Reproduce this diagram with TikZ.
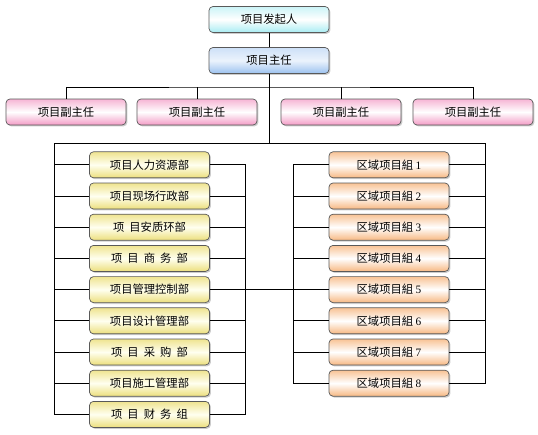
\documentclass[tikz,border=0pt]{standalone}
\usepackage{fontspec}
\setmainfont{Liberation Serif}
\newfontfamily\cjk{Noto Sans CJK SC}
\usetikzlibrary{shadows}

\newcommand\gp{\hspace{0.45em}}

\definecolor{sponsorc}{HTML}{A8ECF2}
\definecolor{chiefc}{HTML}{9CC2F0}
\definecolor{vicec}{HTML}{F39CC6}
\definecolor{deptc}{HTML}{ECDF7C}
\definecolor{groupc}{HTML}{F7B882}

\tikzset{
  box/.style={draw=black!65, line width=0.7pt, rounded corners=4pt,
    minimum width=120pt, minimum height=26pt, inner sep=0pt,
    font=\cjk\fontsize{11.3}{13}\selectfont,
    drop shadow={shadow xshift=1.4pt, shadow yshift=-1.4pt, fill=black!40}},
  sponsor/.style={top color=sponsorc!60, bottom color=sponsorc, middle color=white},
  chief/.style={top color=chiefc!50, bottom color=chiefc, middle color=white!80!chiefc},
  vice/.style={top color=vicec!75, bottom color=vicec, middle color=white},
  dept/.style={top color=deptc!85, bottom color=deptc, middle color=yellow!6},
  group/.style={top color=groupc!85, bottom color=groupc, middle color=white},
  link/.style={draw=black, line width=0.8pt}
}

\begin{document}
\begin{tikzpicture}[x=1pt, y=-1pt]
\useasboundingbox (0,0) rectangle (538,434);

% top of the chart
\node[box,sponsor] (sponsor) at (269,19.5) {项目发起人};
\node[box,chief] (chief) at (269,60.5) {项目主任};

% vice directors
\node[box,vice] (vice1) at (66,112) {项目副主任};
\node[box,vice] (vice2) at (197,112) {项目副主任};
\node[box,vice] (vice3) at (341,112) {项目副主任};
\node[box,vice] (vice4) at (473,112) {项目副主任};

% departments
\foreach \txt [count=\i] in {项目人力资源部, 项目现场行政部, 项\gp 目安质环部,
    项\gp 目\gp 商\gp 务\gp 部, 项目管理控制部, 项目设计管理部,
    项\gp 目\gp 采\gp 购\gp 部, 项目施工管理部, 项\gp 目\gp 财\gp 务\gp 组}
  \node[box,dept] (dep\i) at (149.5,133.6+31.2*\i) {\txt};

% regional groups
\foreach \i in {1,...,8}
  \node[box,group] (grp\i) at (389,133.6+31.2*\i) {区域项目組 {\rmfamily\fontsize{11.3}{13}\selectfont\i}};

\coordinate (vbus) at (269,87);
\coordinate (hbar) at (269,143);
\coordinate (lbus) at (54,143);
\coordinate (rbus) at (485,143);
\coordinate (lin) at (245,0);
\coordinate (rin) at (293,0);

% connectors
\draw[link] (sponsor) -- (chief);
\draw[link] (chief.south) -- (hbar);
\draw[link] (vice1.north) |- (vbus) -| (vice4.north);
\draw[link] (vice2.north) -- (vice2.north |- vbus);
\draw[link] (vice3.north) -- (vice3.north |- vbus);

\draw[link] (dep9.west) -| (lbus) -- (rbus) |- (grp8.east);
\foreach \i in {1,...,8}
  \draw[link] (dep\i.west) -- (dep\i.west -| lbus);
\foreach \i in {1,...,7}
  \draw[link] (grp\i.east) -- (grp\i.east -| rbus);

\draw[link] (dep1.east) -| (dep9.east -| lin) -- (dep9.east);
\foreach \i in {2,...,8}
  \draw[link] (dep\i.east) -- (dep\i.east -| lin);
\draw[link] (grp1.west) -| (grp8.west -| rin) -- (grp8.west);
\foreach \i in {2,...,7}
  \draw[link] (grp\i.west) -- (grp\i.west -| rin);
\draw[link] (dep5.east -| lin) -- (grp5.west -| rin);
\end{tikzpicture}
\end{document}
